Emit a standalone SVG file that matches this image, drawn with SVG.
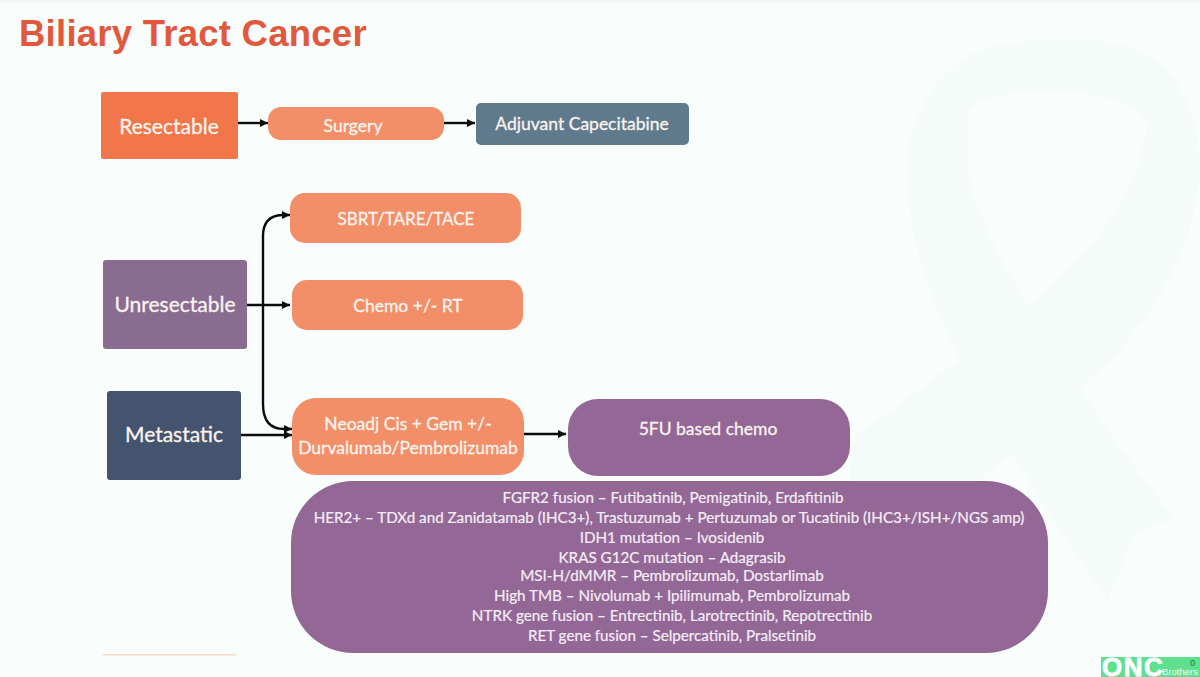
<svg xmlns="http://www.w3.org/2000/svg" width="1200" height="677" viewBox="0 0 1200 677">
<style>
.t{font-family:Lato,"Liberation Sans",sans-serif;fill:#fbf3ee;stroke:#fbf3ee;stroke-width:.3;text-anchor:middle}
.n{font-size:21px}
.s{font-size:17.5px}
.l{font-size:15.2px;fill:#f6eef6;stroke:#f6eef6;stroke-width:.2}
.c{fill:none;stroke:#0c0c0c;stroke-width:2.4;marker-end:url(#a)}
</style>
<defs><marker id="a" markerUnits="userSpaceOnUse" markerWidth="9" markerHeight="10" refX="8" refY="5" orient="auto"><path d="M0 1L8 5L0 9Z" fill="#0c0c0c"/></marker></defs>
<rect width="1200" height="677" fill="#f9fefc"/>
<rect width="1200" height="3" fill="#f3f6f5"/>
<path id="ribbon" fill="#f4fbf8" fill-rule="evenodd" d="M1000 44C1040 38 1090 38 1120 44C1170 55 1200 100 1200 170C1195 260 1140 340 1080 387L1115 440L1173 518L1135 533L1107 602L1015 460L1010 453L980 480L900 540L850 510V440L960 360C925 290 907 230 907 170C910 100 950 55 1000 44ZM967 110C985 95 1020 90 1060 92C1100 94 1130 100 1147 120C1145 190 1080 265 1028 306C1000 260 975 210 967 170Z"/>
<text x="19" y="46" font-family="'Liberation Sans',Arial,sans-serif" font-weight="700" font-size="36.5" letter-spacing=".25" fill="#e2583c">Biliary Tract Cancer</text>
<g id="connectors">
<path class="c" d="M238 123H268"/>
<path class="c" d="M444 123H475"/>
<path class="c" d="M247 305H290"/>
<path class="c" d="M263 305V236Q263 216 282 215H290"/>
<path class="c" d="M263 305V404Q263 429 284 429H292"/>
<path class="c" d="M241 435H292"/>
<path class="c" d="M524 434H566"/>
</g>
<g id="resectable"><rect x="101" y="92" width="137" height="67" rx="2" fill="#f1774a"/><text class="t n" x="169" y="134">Resectable</text></g>
<g id="surgery"><rect x="268" y="107" width="176" height="33" rx="13" fill="#f28f69"/><text class="t s" x="353" y="132">Surgery</text></g>
<g id="adjuvant"><rect x="476" y="103" width="213" height="42" rx="5" fill="#607a8d"/><text class="t s" x="582" y="130">Adjuvant Capecitabine</text></g>
<g id="sbrt"><rect x="290" y="193" width="231" height="50" rx="15" fill="#f28f69"/><text class="t" font-size="17" x="406" y="225">SBRT/TARE/TACE</text></g>
<g id="unresectable"><rect x="103" y="260" width="144" height="89" rx="3" fill="#8a6b92"/><text class="t n" x="175" y="312">Unresectable</text></g>
<g id="chemo"><rect x="292" y="280" width="231" height="50" rx="15" fill="#f28f69"/><text class="t s" x="408" y="312">Chemo +/- RT</text></g>
<g id="metastatic"><rect x="107" y="391" width="134" height="89" rx="3" fill="#44546e"/><text class="t n" x="174" y="442">Metastatic</text></g>
<g id="neoadj"><rect x="292" y="398" width="232" height="77" rx="24" fill="#f28f69"/><text class="t s" x="408" y="430">Neoadj Cis + Gem +/-</text><text class="t s" x="408" y="454">Durvalumab/Pembrolizumab</text></g>
<g id="fivefu"><rect x="568" y="399" width="282" height="77" rx="30" fill="#936796"/><text class="t s" x="708" y="435">5FU based chemo</text></g>
<g id="targeted"><rect x="291" y="481" width="757" height="172" rx="62" fill="#936796"/>
<text class="t l" x="673" y="503">FGFR2 fusion – Futibatinib, Pemigatinib, Erdafitinib</text>
<text class="t l" x="669" y="523">HER2+ – TDXd and Zanidatamab (IHC3+), Trastuzumab + Pertuzumab or Tucatinib (IHC3+/ISH+/NGS amp)</text>
<text class="t l" x="672" y="543">IDH1 mutation – Ivosidenib</text>
<text class="t l" x="672" y="563">KRAS G12C mutation – Adagrasib</text>
<text class="t l" x="672" y="581">MSI-H/dMMR – Pembrolizumab, Dostarlimab</text>
<text class="t l" x="672" y="601">High TMB – Nivolumab + Ipilimumab, Pembrolizumab</text>
<text class="t l" x="672" y="621">NTRK gene fusion – Entrectinib, Larotrectinib, Repotrectinib</text>
<text class="t l" x="672" y="641">RET gene fusion – Selpercatinib, Pralsetinib</text></g>
<rect x="103" y="654" width="133" height="1.5" fill="#f6d9c9"/>
<g id="logo"><rect x="1101" y="657" width="99" height="20" fill="#5fe08e"/>
<text x="1102" y="676" font-family="'Liberation Sans',sans-serif" font-weight="700" font-size="26" stroke="#fff" stroke-width=".8" letter-spacing="1.5" fill="#fff">ONC</text>
<text x="1162" y="675" font-family="'Liberation Sans',sans-serif" font-size="9.5" fill="#f0fff4">Brothers</text>
<text x="1190" y="666" font-family="'Liberation Sans',sans-serif" font-size="9" fill="#157a3a">0</text></g>
</svg>
